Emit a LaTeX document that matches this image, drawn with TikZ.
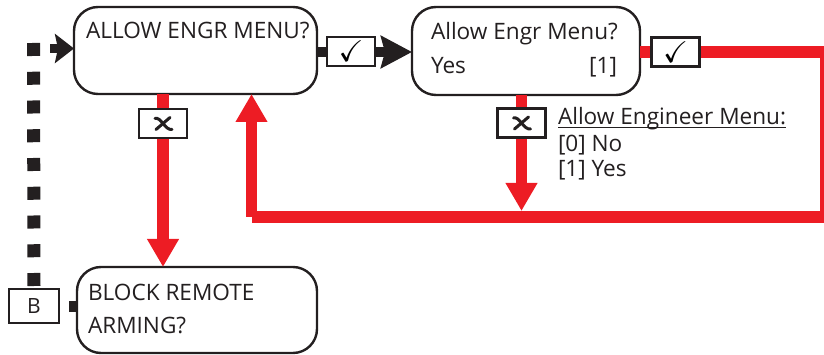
\documentclass[tikz,border=0pt]{standalone}
\usepackage{amssymb}
\usepackage{fontspec}
\setmainfont{Open Sans}
\usetikzlibrary{arrows.meta}
\definecolor{fcred}{RGB}{237,28,36}
\definecolor{fcblack}{RGB}{35,31,32}
\tikzset{
  menubox/.style={draw=fcblack, line width=2.4pt, rounded corners=24pt, inner sep=0pt, outer sep=0pt},
  tagbox/.style={draw=fcblack, fill=white, line width=2.6pt, inner sep=0pt, outer sep=0pt, minimum width=48pt, minimum height=29pt},
  redline/.style={draw=fcred, line width=11.5pt},
  redarrow/.style={redline, -{Triangle[length=28pt,width=30pt]}},
  blackarrow/.style={draw=fcblack, line width=10pt, -{Stealth[length=31pt,width=32pt,inset=4pt]}},
  dotline/.style={draw=fcblack, line width=13pt, dash pattern=on 13pt off 15.75pt},
  txt/.style={inner sep=0pt, outer sep=0pt, anchor=base west, font=\fontsize{22.6}{26}\selectfont, text=fcblack},
  note/.style={inner sep=0pt, outer sep=0pt, anchor=base west, font=\fontsize{22.6}{26}\selectfont, text=fcblack}
}
\begin{document}
\begin{tikzpicture}[x=1pt, y=-1pt]
\useasboundingbox (0,0) rectangle (824,355);
% boxes
\node[menubox, minimum width=243pt, minimum height=87pt] (b1) at (195.5,50.5) {};
\node[menubox, minimum width=228pt, minimum height=88pt] (b2) at (526,51) {};
\node[menubox, minimum width=240pt, minimum height=86pt] (b3) at (197,310) {};
\node[draw=fcblack, line width=2pt, inner sep=0pt, outer sep=0pt, minimum width=50pt, minimum height=34pt, font=\fontsize{21}{24}\selectfont, text=fcblack] (B) at (34,306) {B};
% texts
\node[txt] (t1) at (86,39) {ALLOW ENGR MENU?};
\node[txt] (t2) at (431,40) {Allow Engr Menu?};
\node[txt] (t3) at (431,74) {Yes};
\node[txt, anchor=base east] (t4) at (617,74) {[1]};
\node[txt] (t5) at (88,300) {BLOCK REMOTE};
\node[txt] (t6) at (88,333) {ARMING?};
\node[note] (n1) at (558,125) {Allow Engineer Menu:};
\node[note] (n2) at (558,152) {[0] No};
\node[note] (n3) at (558,177) {[1] Yes};
\draw[fcblack, line width=1.5pt] ([yshift=-2.5pt]n1.base west) -- ([yshift=-2.5pt]n1.base east);
% coordinates
\coordinate (xl) at (163,0);
\coordinate (xr) at (251.5,0);
\coordinate (xm) at (521.5,0);
\coordinate (ye) at (0,52);
\coordinate (cR) at (825.5,52);
\coordinate (cRB) at (825.5,217);
\coordinate (cLB) at (251.5,217);
\coordinate (cM) at (521.5,211);
% red connectors
\draw[redarrow] (b1.south -| xl) -- (b3.north -| xl);
\draw[redline] (b2.east |- ye) -- (cR) -- (cRB) -- (cLB);
\draw[redarrow] (cLB) -- (b1.south -| xr);
\draw[redarrow] (b2.south -| xm) -- (cM);
% black connector
\draw[blackarrow] (b1.east |- ye) -- (b2.west |- ye);
% dotted connector
\coordinate (dtop) at (33.5,42);
\coordinate (dstart) at (50,48.5);
\draw[dotline] ([yshift=3pt]B.north) -- (dtop);
\draw[draw=fcblack, line width=9pt, -{Stealth[length=19pt,width=29pt,inset=3pt]}] (dstart) -- (b1.west |- dstart);
\fill[fcblack] ([xshift=10pt,yshift=5.5pt]B.east) rectangle ++(7,11);
% tag boxes
\node[tagbox, font=\fontsize{30}{30}\selectfont] (c1) at (351,51.5) {$\checkmark$};
\node[tagbox, font=\fontsize{30}{30}\selectfont] (c2) at (675.5,52) {$\checkmark$};
\node[tagbox] (x1) at (163,123.5) {};
\node[tagbox] (x2) at (521.5,123) {};
\foreach \c in {x1,x2}{
  \draw[fcblack, line width=3pt, line cap=round] ([xshift=-8pt,yshift=5pt]\c.center) .. controls ([xshift=-2pt,yshift=7pt]\c.center) and ([xshift=2pt,yshift=-7pt]\c.center) .. ([xshift=9pt,yshift=-6pt]\c.center);
  \draw[fcblack, line width=3pt, line cap=round] ([xshift=7pt,yshift=6pt]\c.center) -- ([xshift=-7pt,yshift=-6pt]\c.center);
}
\end{tikzpicture}
\end{document}
